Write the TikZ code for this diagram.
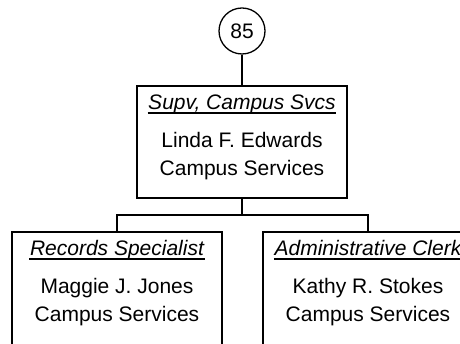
\documentclass[tikz,border=0pt]{standalone}
\usepackage{fontspec}
\setmainfont{Liberation Sans}
\usepackage{tikz}
\usetikzlibrary{positioning,calc}

\begin{document}
\begin{tikzpicture}[
  x=1pt, y=-1pt,
  font=\fontsize{21}{25}\selectfont,
  line width=1.3pt,
  badge/.style={draw, circle, minimum size=46pt, inner sep=0pt},
  unit/.style={draw, minimum width=210pt, minimum height=112pt, inner sep=0pt},
  ttl/.style={anchor=base, inner sep=0pt, font=\fontsize{21}{25}\selectfont\itshape},
  txt/.style={anchor=base, inner sep=0pt},
  ul/.style={line width=1.4pt},
  link/.style={line width=1.3pt}
]
\fill[white] (0,0) rectangle (460,344);
\useasboundingbox (0,0) rectangle (460,344);
% head
\node[badge] (n85) at (242,31) {85};
\node[unit] (sup) at (242,142) {};
\node[ttl] (supT) at ([yshift=-24pt]sup.north) {Supv, Campus Svcs};
\node[txt] (supN) at ([yshift=-62.5pt]sup.north) {Linda F. Edwards};
\node[txt] (supD) at ([yshift=-90.5pt]sup.north) {Campus Services};
% staff
\node[unit, minimum height=118pt] (rs) at (117,291) {};
\node[ttl] (rsT) at ([yshift=-24pt]rs.north) {Records Specialist};
\node[txt] (rsN) at ([yshift=-62.5pt]rs.north) {Maggie J. Jones};
\node[txt] (rsD) at ([yshift=-90.5pt]rs.north) {Campus Services};
\node[unit, minimum height=118pt] (ac) at (368,291) {};
\node[ttl] (acT) at ([yshift=-24pt]ac.north) {Administrative Clerk};
\node[txt] (acN) at ([yshift=-62.5pt]ac.north) {Kathy R. Stokes};
\node[txt] (acD) at ([yshift=-90.5pt]ac.north) {Campus Services};
% underlines
\foreach \t in {supT,rsT,acT}
  \draw[ul] ([yshift=-3.5pt]\t.base west) -- ([yshift=-3.5pt]\t.base east);
% links
\coordinate (bus) at (242,215);
\draw[link] (n85) -- (sup);
\draw[link] (sup.south) -- (bus);
\draw[link] (rs.north) |- (bus) -| (ac.north);
\end{tikzpicture}
\end{document}
